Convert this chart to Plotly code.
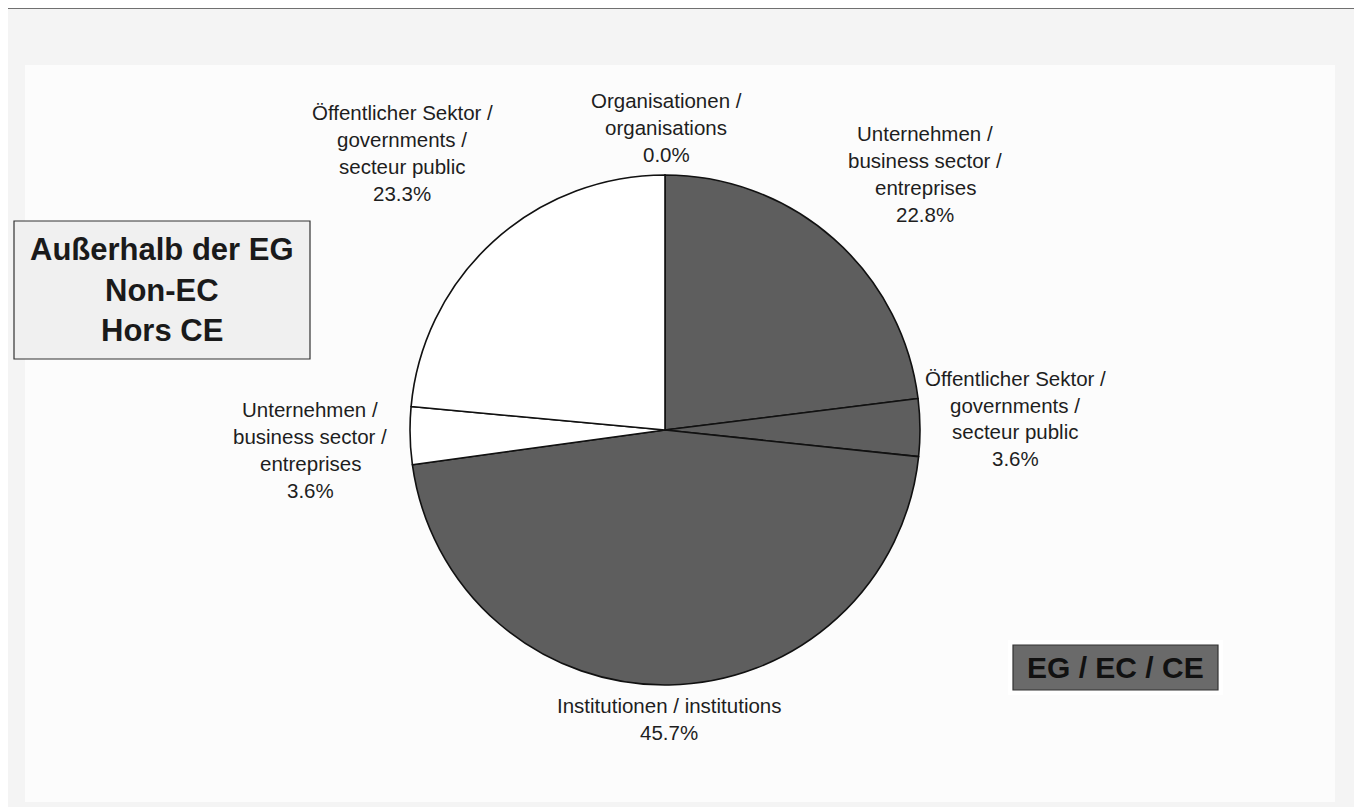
import plotly.graph_objects as go

# ---- data ----
categories = [
    "Organisationen /<br>organisations",
    "Unternehmen /<br>business sector /<br>entreprises",
    "Öffentlicher Sektor /<br>governments /<br>secteur public",
    "Institutionen / institutions",
    "Unternehmen /<br>business sector /<br>entreprises",
    "Öffentlicher Sektor /<br>governments /<br>secteur public",
]
values = [0.0, 22.8, 3.6, 45.7, 3.6, 23.3]
groups = ["EG", "EG", "EG", "EG", "Non-EC", "Non-EC"]
box_left_lines = ["Außerhalb der EG", "Non-EC", "Hors CE"]
box_right_text = "EG / EC / CE"

# ---- layout / style ----
W, H = 1362, 807
OFF = 8  # page body margin
group_colors = {"EG": "#5e5e5e", "Non-EC": "#ffffff"}
# label anchors in pixels: (center x, first line y)
label_pos = [(666, 100), (925, 133), (1015, 378), (669, 705), (310, 409), (402, 113)]
line_gap = 27
cx, cy, r = 665, 430, 255


def px(x):
    return (x - OFF) / W


def py(y):
    return 1 - (y - OFF) / H


fig = go.Figure()
fig.add_trace(go.Pie(
    ids=[f"s{i}" for i in range(len(categories))],
    labels=[f"{i}: {c.replace('<br>', ' ')}" for i, c in enumerate(categories)],
    values=values,
    sort=False,
    direction="clockwise",
    rotation=0,
    textinfo="none",
    hovertemplate="%{label}<br>%{value:.1f}%<extra></extra>",
    marker=dict(colors=[group_colors[g] for g in groups],
                line=dict(color="#111111", width=1.6)),
    domain=dict(x=[px(cx - r), px(cx + r)], y=[py(cy + r), py(cy - r)]),
    showlegend=False,
))

annotations = []
font_lbl = dict(family="Liberation Sans, Arial, sans-serif", size=20.5, color="#1e1e1e")
for cat, val, (lx, ly) in zip(categories, values, label_pos):
    lines = cat.split("<br>") + [f"{val:.1f}%"]
    for i, ln in enumerate(lines):
        annotations.append(dict(
            x=px(lx), y=py(ly + i * line_gap), xref="paper", yref="paper",
            text=ln, showarrow=False, xanchor="center", yanchor="middle",
            font=font_lbl,
        ))

font_box = dict(family="Liberation Sans, Arial, sans-serif", size=31, color="#1a1a1a")
for i, ln in enumerate(box_left_lines):
    annotations.append(dict(
        x=px(162), y=py(250 + i * 40), xref="paper", yref="paper",
        text=f"<b>{ln}</b>", showarrow=False, xanchor="center", yanchor="middle",
        font=font_box,
    ))
annotations.append(dict(
    x=px(1115), y=py(667), xref="paper", yref="paper",
    text=f"<b>{box_right_text}</b>", showarrow=False, xanchor="center", yanchor="middle",
    font=dict(family="Liberation Sans, Arial, sans-serif", size=30, color="#111111"),
))

shapes = [
    # outer frame
    dict(type="rect", xref="paper", yref="paper", x0=px(3), x1=px(1357), y0=py(830), y1=py(8),
         line=dict(color="#444444", width=1.5), fillcolor="#f4f4f4", layer="below"),
    # inner plot area
    dict(type="rect", xref="paper", yref="paper", x0=px(25), x1=px(1335), y0=py(802), y1=py(65),
         line=dict(width=0), fillcolor="#fcfcfc", layer="below"),
    # left box
    dict(type="rect", xref="paper", yref="paper", x0=px(14), x1=px(310), y0=py(359), y1=py(221),
         line=dict(color="#333333", width=1.2), fillcolor="#f0f0f0", layer="below"),
    # right box rim + box
    dict(type="rect", xref="paper", yref="paper", x0=px(1008), x1=px(1223), y0=py(695), y1=py(640),
         line=dict(width=0), fillcolor="#ffffff", layer="below"),
    dict(type="rect", xref="paper", yref="paper", x0=px(1013), x1=px(1218), y0=py(690), y1=py(645),
         line=dict(color="#333333", width=1.2), fillcolor="#6a6a6a", layer="below"),
]

fig.update_layout(
    width=W, height=H, autosize=False,
    margin=dict(l=0, r=0, t=0, b=0),
    paper_bgcolor="#ffffff", plot_bgcolor="#ffffff",
    annotations=annotations, shapes=shapes,
)
fig.write_html("out.html")
